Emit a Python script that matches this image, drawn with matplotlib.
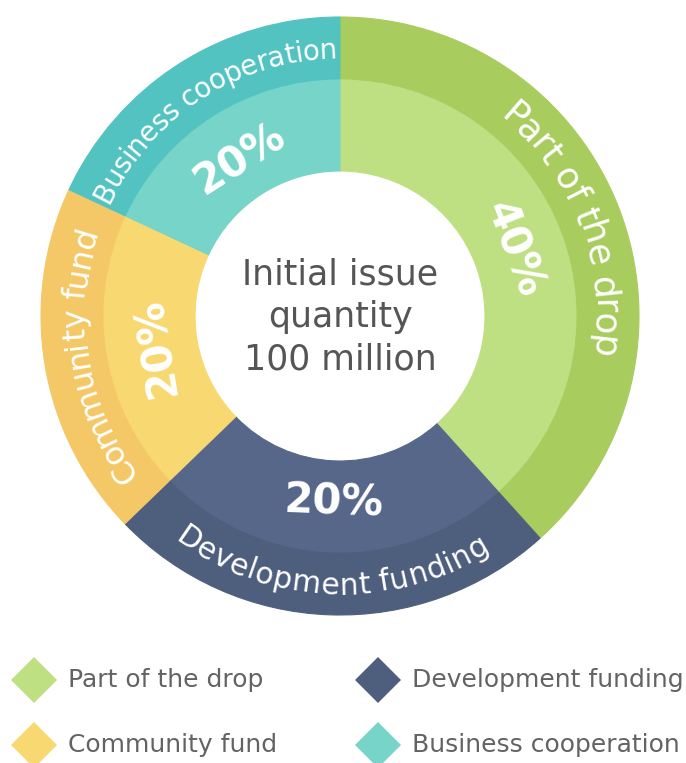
import matplotlib
matplotlib.use("Agg")
import matplotlib.pyplot as plt
import numpy as np
from matplotlib.font_manager import FontProperties
from matplotlib.textpath import TextToPath
from matplotlib.patches import RegularPolygon

# ---------------- data ----------------
categories = ["Part of the drop", "Development funding", "Community fund", "Business cooperation"]
share_labels = ["40%", "20%", "20%", "20%"]
arc_sizes = [138, 88, 69, 65]          # slice sizes as drawn in the picture (degrees)
center_text = "Initial issue\nquantity\n100 million"

outer_colors = ["#A9CC5E", "#4E5E7D", "#F4C866", "#52C3C1"]
inner_colors = ["#BFE082", "#56678A", "#F7D871", "#77D4C8"]
legend_colors = ["#BFE082", "#4E5E7D", "#F7D871", "#77D4C8"]
ring_label_sizes = [26, 21.5, 23, 20]

# ---------------- figure ----------------
W, H = 686, 763
fig = plt.figure(figsize=(W / 100, H / 100), dpi=100)
ax = fig.add_axes([0, 0, 1, 1])
cx, cy = 340, H - 316
R_out, R_mid, R_in = 299, 236, 145

w_out, _ = ax.pie(arc_sizes, radius=R_out, center=(cx, cy), startangle=90,
                  counterclock=False, colors=outer_colors,
                  wedgeprops=dict(width=R_out - R_mid, linewidth=0.8))
w_in, _ = ax.pie(arc_sizes, radius=R_mid, center=(cx, cy), startangle=90,
                 counterclock=False, colors=inner_colors,
                 wedgeprops=dict(width=R_mid - R_in, linewidth=0.8))
for w in list(w_out) + list(w_in):
    w.set_edgecolor(w.get_facecolor())

ax.set_xlim(0, W)
ax.set_ylim(0, H)
ax.set_aspect("equal")
ax.axis("off")

# segment centre angles (clockwise from top)
starts = np.concatenate([[0], np.cumsum(arc_sizes)[:-1]])
mids = starts + np.array(arc_sizes) / 2.0

ttp = TextToPath()
def text_w(s, fp):
    w, h, d = ttp.get_text_width_height_descent(s, fp, ismath=False)
    return w * 100 / 72.0

def curved(text, theta_c, r_c, fs, inward=False, color="white", family="DejaVu Sans"):
    fp = FontProperties(family=family, size=fs)
    fs_px = fs * 100 / 72.0
    cap = 0.729 * fs_px
    total = text_w(text, fp)
    rb = r_c + cap / 2 if inward else r_c - cap / 2
    for i, ch in enumerate(text):
        if ch == " ":
            continue
        s = text_w(text[:i + 1], fp) - text_w(ch, fp) / 2
        off = (s - total / 2) / r_c
        th = np.radians(theta_c) - off if inward else np.radians(theta_c) + off
        x = cx + rb * np.sin(th)
        y = cy + rb * np.cos(th)
        rot = 180 - np.degrees(th) if inward else -np.degrees(th)
        ax.text(x, y, ch, rotation=rot, rotation_mode="anchor", ha="center",
                va="baseline", fontproperties=fp, color=color)

r_outer_lbl = (R_out + R_mid) / 2.0
r_inner_lbl = 186
for name, lab, th, fs in zip(categories, share_labels, mids, ring_label_sizes):
    inward = 135 < th < 225
    curved(name, th, r_outer_lbl, fs, inward=inward)
    x = cx + r_inner_lbl * np.sin(np.radians(th))
    y = cy + r_inner_lbl * np.cos(np.radians(th))
    rot = 180 - th if inward else -th
    ax.text(x, y, lab, rotation=rot, rotation_mode="anchor", ha="center", va="center",
            fontsize=30, fontweight="bold", color="white", family="DejaVu Sans")

ax.text(cx, cy - 1, center_text, ha="center", va="center", fontsize=25,
        color="#555555", family="DejaVu Sans", linespacing=1.3)

# ---------------- legend ----------------
leg_x = [34, 378]
leg_y = [H - 680, H - 745]
order = [(0, 0, 0), (1, 1, 0), (2, 0, 1), (3, 1, 1)]
for idx, col, row in order:
    ax.add_patch(RegularPolygon((leg_x[col], leg_y[row]), numVertices=4, radius=23,
                                orientation=0, facecolor=legend_colors[idx], edgecolor="none"))
    ax.text(leg_x[col] + 34, leg_y[row], categories[idx], ha="left", va="center",
            fontsize=18, color="#636363", family="DejaVu Sans")

fig.savefig("out.png", dpi=100)
